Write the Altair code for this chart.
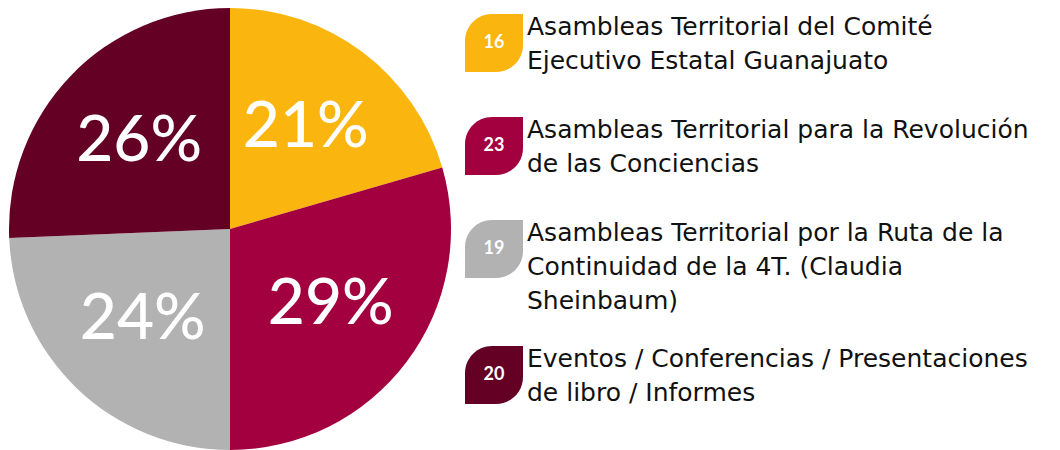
import altair as alt
import pandas as pd

# ---- data ----
counts = [16, 23, 19, 20]
keys = ["comite", "revolucion", "ruta", "eventos"]
labels = [
    "Asambleas Territorial del Comité\nEjecutivo Estatal Guanajuato",
    "Asambleas Territorial para la Revolución\nde las Conciencias",
    "Asambleas Territorial por la Ruta de la\nContinuidad de la 4T. (Claudia\nSheinbaum)",
    "Eventos / Conferencias / Presentaciones\nde libro / Informes",
]
colors = ["#FBB50F", "#A3003F", "#B2B2B2", "#630024"]

PCT_FONT = "Lato"
LEG_FONT = "DejaVu Sans"
total = sum(counts)
pie_df = pd.DataFrame({
    "idx": range(len(counts)),
    "key": keys,
    "value": counts,
    "pct": [f"{round(c / total * 100)}%" for c in counts],
})

color_scale = alt.Scale(domain=keys, range=colors)

# ---- pie panel ----
PIE_W, PIE_H = 444, 442
base = alt.Chart(pie_df).encode(
    theta=alt.Theta("value:Q", stack=True),
    order=alt.Order("idx:Q"),
)
arcs = base.mark_arc(outerRadius=221).encode(
    color=alt.Color("key:N", scale=color_scale, legend=None)
)
pct_text = base.mark_text(radius=126, fontSize=64, font=PCT_FONT, fontWeight=500).encode(
    text="pct:N", color=alt.value("white")
)
pie = (arcs + pct_text).properties(width=PIE_W, height=PIE_H)

# ---- custom legend panel (layout computed from line counts) ----
LEG_W, LEG_H = 600, 442
first_line = 19
line_h = 34
item_gap = 69
extra_line_shrink = 11
icon_x1, icon_x2 = 13, 71
icon_half = 29
text_x = 75

icon_rows, line_rows = [], []
y = first_line
for i, (k, lab, c) in enumerate(zip(keys, labels, counts)):
    parts = lab.split("\n")
    yc = y + 16
    icon_rows.append({"key": k, "num": str(c), "x1": icon_x1, "x2": icon_x2,
                      "xc": (icon_x1 + icon_x2) / 2, "yc": yc,
                      "y1": yc - icon_half, "y2": yc + icon_half})
    for j, p in enumerate(parts):
        line_rows.append({"line": p, "x": text_x, "y": y + j * line_h})
    y = y + (len(parts) - 1) * line_h + item_gap - extra_line_shrink * (len(parts) - 2)

icons_df = pd.DataFrame(icon_rows)
lines_df = pd.DataFrame(line_rows)

xs = alt.Scale(domain=[0, LEG_W], nice=False, zero=False)
ys = alt.Scale(domain=[0, LEG_H], nice=False, zero=False, reverse=True)

rects = alt.Chart(icons_df).mark_rect(
    cornerRadiusTopLeft=27, cornerRadiusBottomRight=27
).encode(
    x=alt.X("x1:Q", scale=xs, axis=None), x2="x2:Q",
    y=alt.Y("y1:Q", scale=ys, axis=None), y2="y2:Q",
    color=alt.Color("key:N", scale=color_scale, legend=None),
)
nums = alt.Chart(icons_df).mark_text(
    fontSize=18, fontWeight="bold", font=PCT_FONT, color="white"
).encode(
    x=alt.X("xc:Q", scale=xs, axis=None),
    y=alt.Y("yc:Q", scale=ys, axis=None),
    text="num:N",
)
texts = alt.Chart(lines_df).mark_text(
    align="left", baseline="middle", fontSize=25, font=LEG_FONT, color="#111111"
).encode(
    x=alt.X("x:Q", scale=xs, axis=None),
    y=alt.Y("y:Q", scale=ys, axis=None),
    text="line:N",
)
legend = (rects + nums + texts).properties(width=LEG_W, height=LEG_H)

chart = alt.hconcat(pie, legend, spacing=0).properties(
    padding=0, background="white"
).configure_view(stroke=None)

chart.save("out.html", embed_options={"renderer": "svg", "actions": False})
